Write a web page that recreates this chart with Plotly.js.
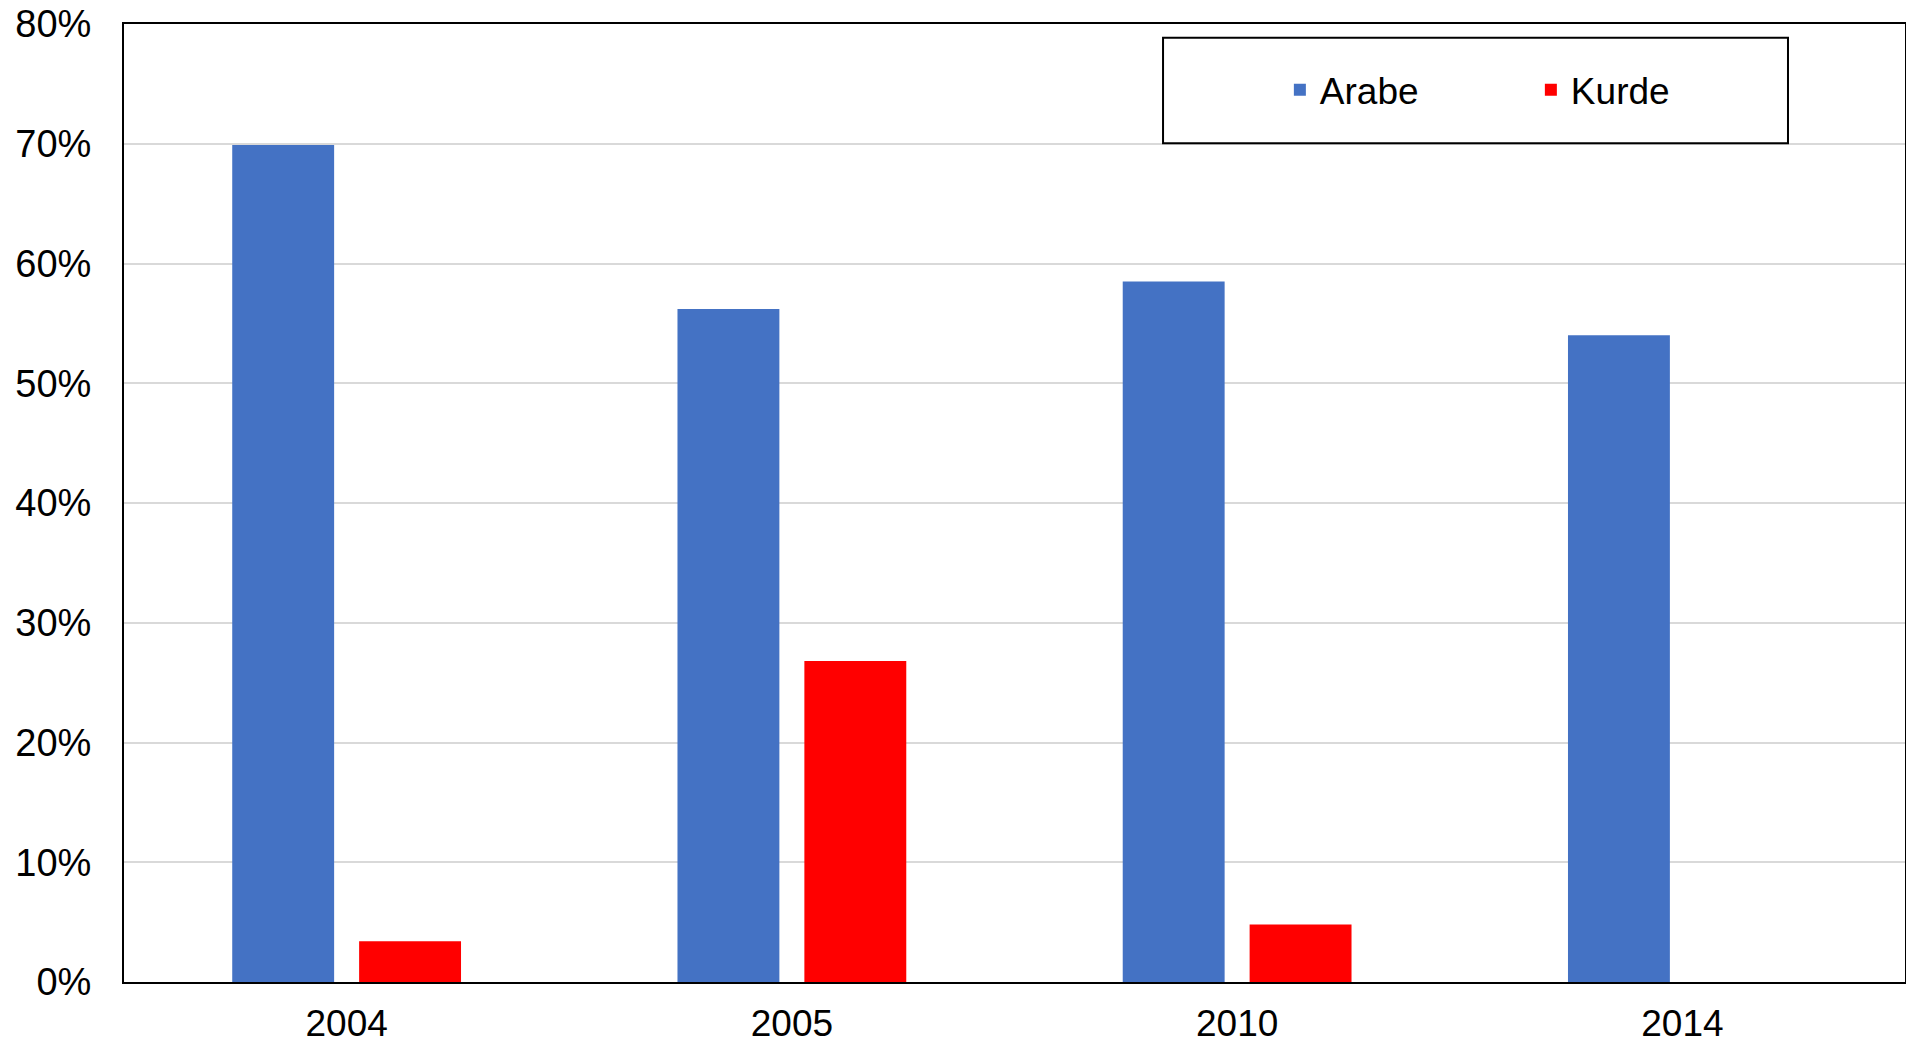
<!DOCTYPE html>
<html>
<head>
<meta charset="utf-8">
<script src="https://cdn.plot.ly/plotly-3.0.1.min.js"></script>
<style>html,body{margin:0;padding:0;background:#fff;}#chart{width:1906px;height:1044px;}</style>
</head>
<body>
<div id="chart"></div>
<script>
const years = ['2004', '2005', '2010', '2014'];
const arabe = [69.9, 56.2, 58.5, 54.0];
const kurde = [3.4, 26.8, 4.8, null];
const seriesNames = ['Arabe', 'Kurde'];
const yTicks = [0, 10, 20, 30, 40, 50, 60, 70, 80];
const yTickLabels = ['0%', '10%', '20%', '30%', '40%', '50%', '60%', '70%', '80%'];

const FONT = '"Liberation Sans", Arial, sans-serif';

const traces = [
  {type: 'bar', name: seriesNames[0], x: years, y: arabe, marker: {color: '#4472C4'}, hoverinfo: 'x+y+name'},
  {type: 'bar', name: seriesNames[1], x: years, y: kurde, marker: {color: '#FF0000'}, hoverinfo: 'x+y+name'}
];

const layout = {
  width: 1906, height: 1044,
  margin: {l: 124, r: 1, t: 24, b: 62, pad: 0},
  paper_bgcolor: '#ffffff', plot_bgcolor: '#ffffff',
  font: {family: FONT, size: 37, color: '#000000'},
  barmode: 'group', bargap: 0.43, bargroupgap: 0.197,
  xaxis: {
    type: 'category', showgrid: false, showline: true, linecolor: '#000000', linewidth: 2,
    mirror: true, ticks: '', ticklabelstandoff: 8, tickfont: {family: FONT, size: 37, color: '#000'}
  },
  yaxis: {
    range: [0, 80], tickmode: 'array', tickvals: yTicks, ticktext: yTickLabels,
    showgrid: true, gridcolor: '#d9d9d9', gridwidth: 2,
    zeroline: false, showline: true, linecolor: '#000000', linewidth: 2, mirror: true, ticks: '',
    ticklabelstandoff: 23, tickfont: {family: FONT, size: 38, color: '#000'}
  },
  showlegend: true,
  legend: {
    orientation: 'h', x: 0.649, xanchor: 'left', y: 0.931, yanchor: 'middle',
    bgcolor: 'rgba(0,0,0,0)', borderwidth: 0, font: {family: FONT, size: 37, color: '#000'},
    entrywidth: 206, entrywidthmode: 'pixels', traceorder: 'normal'
  },
  shapes: [{
    type: 'rect', xref: 'paper', yref: 'paper', x0: 0.5834, x1: 0.9343, y0: 0.8754, y1: 0.9857,
    line: {color: '#000000', width: 2}, fillcolor: '#ffffff', layer: 'above'
  }]
};

Plotly.newPlot('chart', traces, layout, {displayModeBar: false, responsive: false});
</script>
</body>
</html>
